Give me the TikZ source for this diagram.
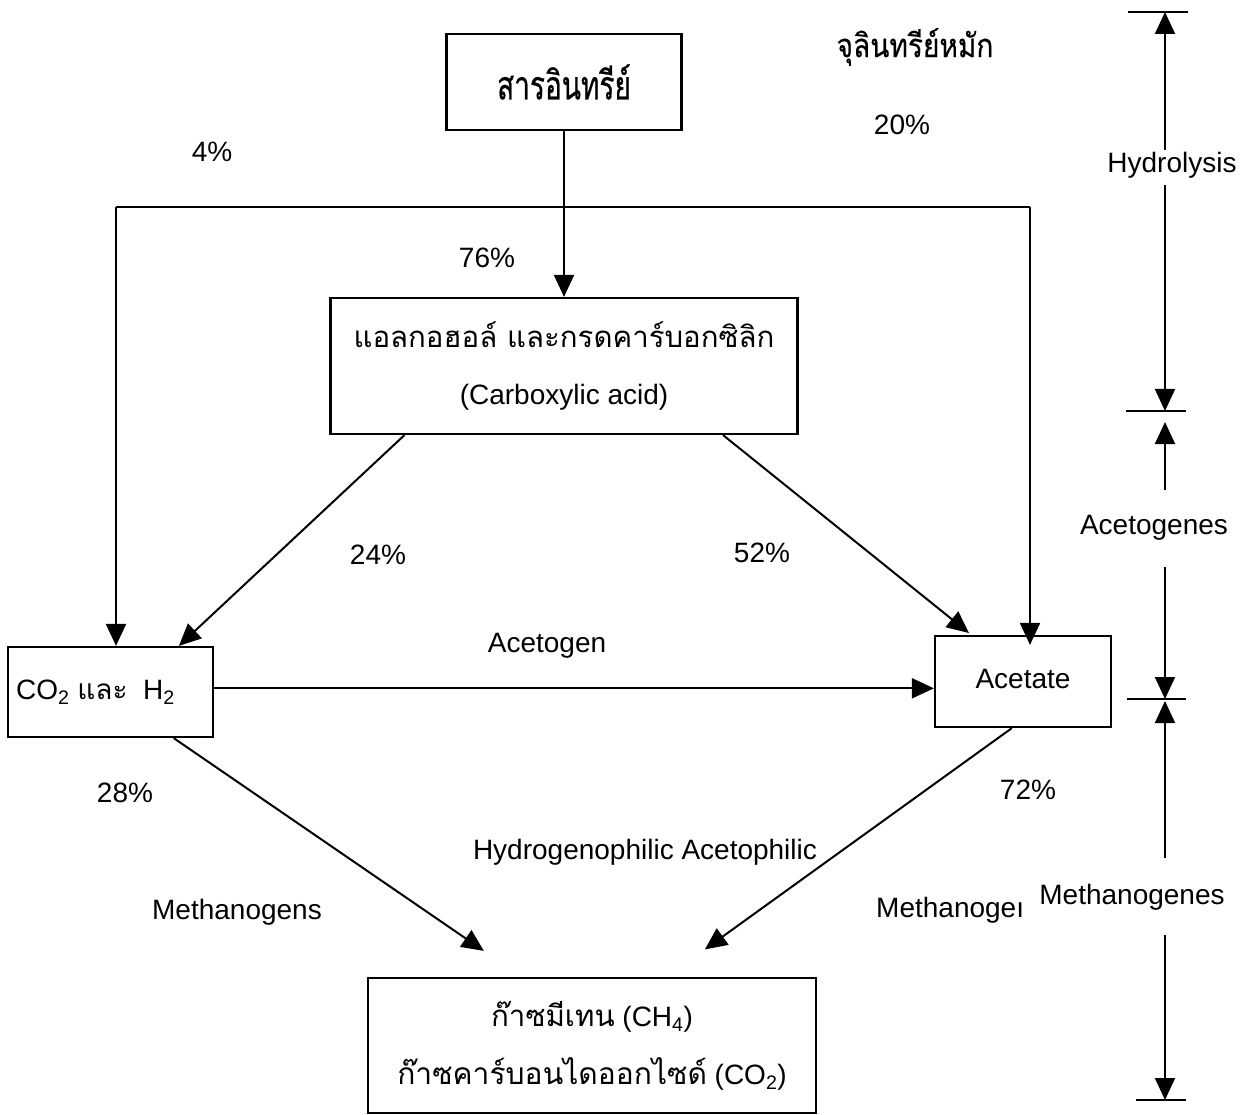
\documentclass[tikz,border=0pt]{standalone}
\usepackage{fontspec}
\setmainfont{Liberation Sans}
\newfontfamily\thai[Script=Thai]{Loma}
\newfontfamily\thaitop[Script=Thai,FakeStretch=0.7,FakeBold=0.6]{Loma}
\newfontfamily\thaimic[Script=Thai,FakeStretch=0.85,FakeBold=0.4]{Loma}
\usetikzlibrary{arrows.meta,calc}
\begin{document}
\begin{tikzpicture}[x=1pt,y=-1pt,
  box/.style={draw,line width=2.2pt,inner sep=0pt,align=center,font=\fontsize{28}{57}\selectfont},
  arr/.style={line width=2pt,-{Triangle[length=22pt,width=20pt]}},
  ln/.style={line width=2pt},
  lbl/.style={inner sep=0pt,font=\fontsize{28}{34}\selectfont}]
\useasboundingbox (0,0) rectangle (1251,1115);

% boxes
\node[box,minimum width=235pt,minimum height=96pt] (org) at (564,82)
  {\fontsize{40}{44}\selectfont\thaitop สารอินทรีย์};
\node[box,minimum width=467pt,minimum height=136pt] (alc) at (564,366)
  {{\fontsize{29.4}{57}\selectfont\thai แอลกอฮอล์ และกรดคาร์บอกซิลิก}\\(Carboxylic acid)};
\node[box,minimum width=205pt,minimum height=90pt] (co2) at (110.5,692)
  {CO\textsubscript{2} {\thai และ}\ \ H\textsubscript{2}\hspace*{30pt}};
\node[box,minimum width=176pt,minimum height=91pt] (ace) at (1023,681.5)
  {\raisebox{5pt}{Acetate}};
\node[box,minimum width=448pt,minimum height=135pt,font=\fontsize{28}{58}\selectfont] (gas) at (592,1045.5)
  {{\fontsize{29.5}{58}\selectfont\thai ก๊าซมีเทน} (CH\textsubscript{4})\\{\fontsize{30}{58}\selectfont\thai ก๊าซคาร์บอนไดออกไซด์} (CO\textsubscript{2})};

% labels
\node[inner sep=0pt,font=\fontsize{33}{36}\selectfont\thaimic] (mic) at (915,47) {จุลินทรีย์หมัก};
\node[lbl] (p20) at (902,125) {20\%};
\node[lbl] (p4) at (212,152) {4\%};
\node[lbl] (p76) at (487,258) {76\%};
\node[lbl] (p24) at (378,555) {24\%};
\node[lbl] (p52) at (762,553) {52\%};
\node[lbl] (acg) at (547,646) {Acetogen};
\node[lbl] (p28) at (125,793) {28\%};
\node[lbl] (p72) at (1028,790) {72\%};
\node[lbl] (hya) at (645,852) {Hydrogenophilic Acetophilic};
\node[lbl] (mgl) at (237,912) {Methanogens};
\node[lbl,anchor=west] (mgr) at (876,910) {Methanogeı};

% main connectors
\coordinate (hl) at (116,207);
\coordinate (hr) at (1030,207);
\draw[arr] (org.south) -- (alc.north);
\draw[ln] (hl) -- (hr);
\draw[arr] (hl) -- (hl |- co2.north);
\draw[arr,shorten >=-10pt] (hr) -- (hr |- ace.north);
\draw[arr] ($(alc.south west)!0.16!(alc.south east)$) -- ($(co2.north west)!0.83!(co2.north east)$);
\draw[arr,shorten >=3pt] ($(alc.south west)!0.839!(alc.south east)$) -- ($(ace.north west)!0.21!(ace.north east)$);
\draw[arr] ($(co2.north east)!0.46!(co2.south east)$) coordinate (h1) -- (h1 -| ace.west);
\draw[arr,shorten >=46pt] ($(co2.south west)!0.805!(co2.south east)$) -- ($(gas.north west)!0.344!(gas.north east)$);
\draw[arr,shorten >=47pt] ($(ace.south west)!0.4375!(ace.south east)$) -- ($(gas.north west)!0.666!(gas.north east)$);

% stage scale
\node[lbl] (hyd) at (1172,165) {Hydrolysis};
\node[lbl] (acs) at (1154,528) {Acetogenes};
\node[lbl] (mgs) at (1132,897) {Methanogenes};
\coordinate (s0) at (1165,12);
\coordinate (s1) at (1165,411);
\coordinate (s2) at (1165,699);
\coordinate (s3) at (1165,1100);
\draw[ln] (1128,12) -- (1188,12);
\draw[ln] (1126,411) -- (1186,411);
\draw[ln] (1127,699) -- (1186,699);
\draw[ln] (1136,1100) -- (1186,1100);
\draw[arr] (s0 |- 0,150) -- (s0);
\draw[arr] (s0 |- 0,185) -- (s1);
\draw[arr,shorten >=11pt] (s1 |- 0,490) -- (s1);
\draw[arr] (s1 |- 0,567) -- (s2);
\draw[arr,shorten >=2pt] (s2 |- 0,858) -- (s2);
\draw[arr] (s2 |- 0,935) -- (s3);
\end{tikzpicture}
\end{document}
